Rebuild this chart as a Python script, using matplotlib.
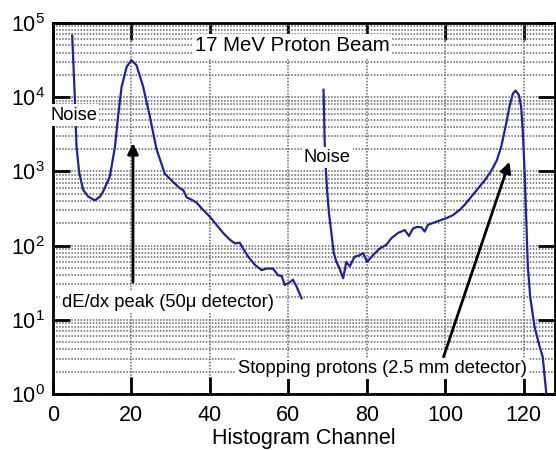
import numpy as np
import matplotlib
matplotlib.use("Agg")
import matplotlib.pyplot as plt
from matplotlib.ticker import LogLocator, FixedLocator, NullFormatter

plt.rcParams['font.family'] = ['Liberation Sans', 'DejaVu Sans']
plt.rcParams['mathtext.fontset'] = 'custom'
plt.rcParams['mathtext.rm'] = 'Liberation Sans'
plt.rcParams['mathtext.it'] = 'Liberation Sans:italic'

# dE/dx detector part of the spectrum (channel, counts)
ch_left = [4.9, 5.6, 6.0, 6.7, 7.7, 9.0, 10.7, 12.0, 12.8, 14.5, 15.8, 16.6, 17.5, 18.8, 20.0,
           21.3, 23.0, 24.7, 26.4, 28.5, 30.6, 32.4, 33.2, 34.1, 35.3, 36.6, 38.3, 40.0,
           41.7, 43.4, 45.1, 46.4, 47.6, 48.5, 49.8, 51.5, 53.2, 54.4, 56.1, 57.4, 58.3,
           59.1, 59.9, 61.2, 62.1, 63.4]
log_left = [4.83, 3.96, 3.33, 2.98, 2.75, 2.66, 2.61, 2.66, 2.73, 2.93, 3.33, 3.74, 4.14, 4.41, 4.50,
            4.43, 4.14, 3.74, 3.30, 2.97, 2.86, 2.77, 2.75, 2.65, 2.62, 2.58, 2.48, 2.39,
            2.28, 2.17, 2.08, 2.03, 2.04, 1.96, 1.85, 1.74, 1.67, 1.69, 1.69, 1.60, 1.59,
            1.47, 1.49, 1.54, 1.45, 1.29]

# stopping detector part of the spectrum
ch_right = [69.0, 69.3, 69.6, 69.9, 70.4, 71.0, 71.6, 72.3, 73.1, 74.0, 74.8, 75.7, 76.9,
            78.2, 79.1, 80.1, 81.6, 83.3, 85.0, 86.3, 88.0, 89.7, 90.8, 91.8, 92.7, 93.9,
            94.8, 95.6, 97.7, 100.3, 102.0, 103.7, 105.0, 106.7, 108.4, 110.1, 111.8,
            113.2, 114.3, 115.6, 116.4, 117.3, 118.0, 118.8, 119.4, 119.8, 120.3, 120.7,
            121.1, 121.7, 122.8, 124.1, 124.9, 125.8]
log_right = [4.10, 3.38, 3.02, 2.75, 2.43, 2.17, 1.90, 1.78, 1.69, 1.56, 1.78, 1.72, 1.85,
             1.87, 1.90, 1.78, 1.87, 1.96, 2.01, 2.10, 2.17, 2.21, 2.13, 2.23, 2.25, 2.25,
             2.19, 2.28, 2.32, 2.37, 2.41, 2.48, 2.55, 2.66, 2.77, 2.88, 3.01,
             3.15, 3.33, 3.65, 3.87, 4.05, 4.09, 4.03, 3.87, 3.56, 2.97, 2.35,
             1.72, 1.31, 0.91, 0.64, 0.50, 0.01]

counts_left = 10 ** np.array(log_left)
counts_right = 10 ** np.array(log_right)

fig = plt.figure(figsize=(5.56, 4.5), dpi=100)
ax = fig.add_axes([0.0953, 0.1244, 0.9027, 0.8245])

line_color = '#2020a4'
ax.plot(ch_left, counts_left, color=line_color, lw=1.6, zorder=3)
ax.plot(ch_right, counts_right, color=line_color, lw=1.6, zorder=3)

ax.set_yscale('log')
ax.set_xlim(0, 128)
ax.set_ylim(1, 1e5)

ax.xaxis.set_major_locator(FixedLocator([0, 20, 40, 60, 80, 100, 120]))
ax.yaxis.set_major_locator(LogLocator(base=10, numticks=10))
ax.yaxis.set_minor_locator(LogLocator(base=10, subs=np.arange(2, 10), numticks=10))
ax.yaxis.set_minor_formatter(NullFormatter())

ax.tick_params(which='major', direction='in', length=12, width=2, top=True, right=True,
               labelsize=15.5, pad=6)
ax.tick_params(which='minor', length=0)
ax.tick_params(axis='x', pad=8)

ax.grid(True, which='both', axis='y', color='#666666', linestyle=(0, (1, 1)), lw=1.1)
ax.grid(True, which='major', axis='x', color='#666666', linestyle=(0, (1, 1)), lw=1.1)
for sp in ax.spines.values():
    sp.set_linewidth(2)

ax.set_xlabel('Histogram Channel', fontsize=15.5, labelpad=1)

box = dict(facecolor='white', edgecolor='none', pad=1.5)
ax.text(61, 10 ** 4.69, '17 MeV Proton Beam', fontsize=14.7, ha='center', va='center',
        bbox=box, zorder=4)
ax.text(5.3, 10 ** 3.76, 'Noise', fontsize=13.2, ha='center', va='center', bbox=box, zorder=4)
ax.text(69.9, 10 ** 3.19, 'Noise', fontsize=13.2, ha='center', va='center', bbox=box, zorder=4)
ax.text(29.3, 10 ** 1.24, 'dE/dx peak (50\u03bc detector)', fontsize=13.2, ha='center',
        va='center', bbox=box, zorder=4)
ax.text(84.0, 10 ** 0.34, 'Stopping protons (2.5 mm detector)', fontsize=13.2, ha='center',
        va='center', bbox=box, zorder=4)

arrow = dict(arrowstyle='-|>', color='black', lw=2, mutation_scale=16,
             shrinkA=0, shrinkB=0)
ax.annotate('', xy=(20.4, 10 ** 3.38), xytext=(20.4, 10 ** 1.51), arrowprops=arrow, zorder=5)
ax.annotate('', xy=(116.4, 10 ** 3.13), xytext=(99.6, 10 ** 0.50), arrowprops=arrow, zorder=5)

plt.savefig('out.png', dpi=100)
